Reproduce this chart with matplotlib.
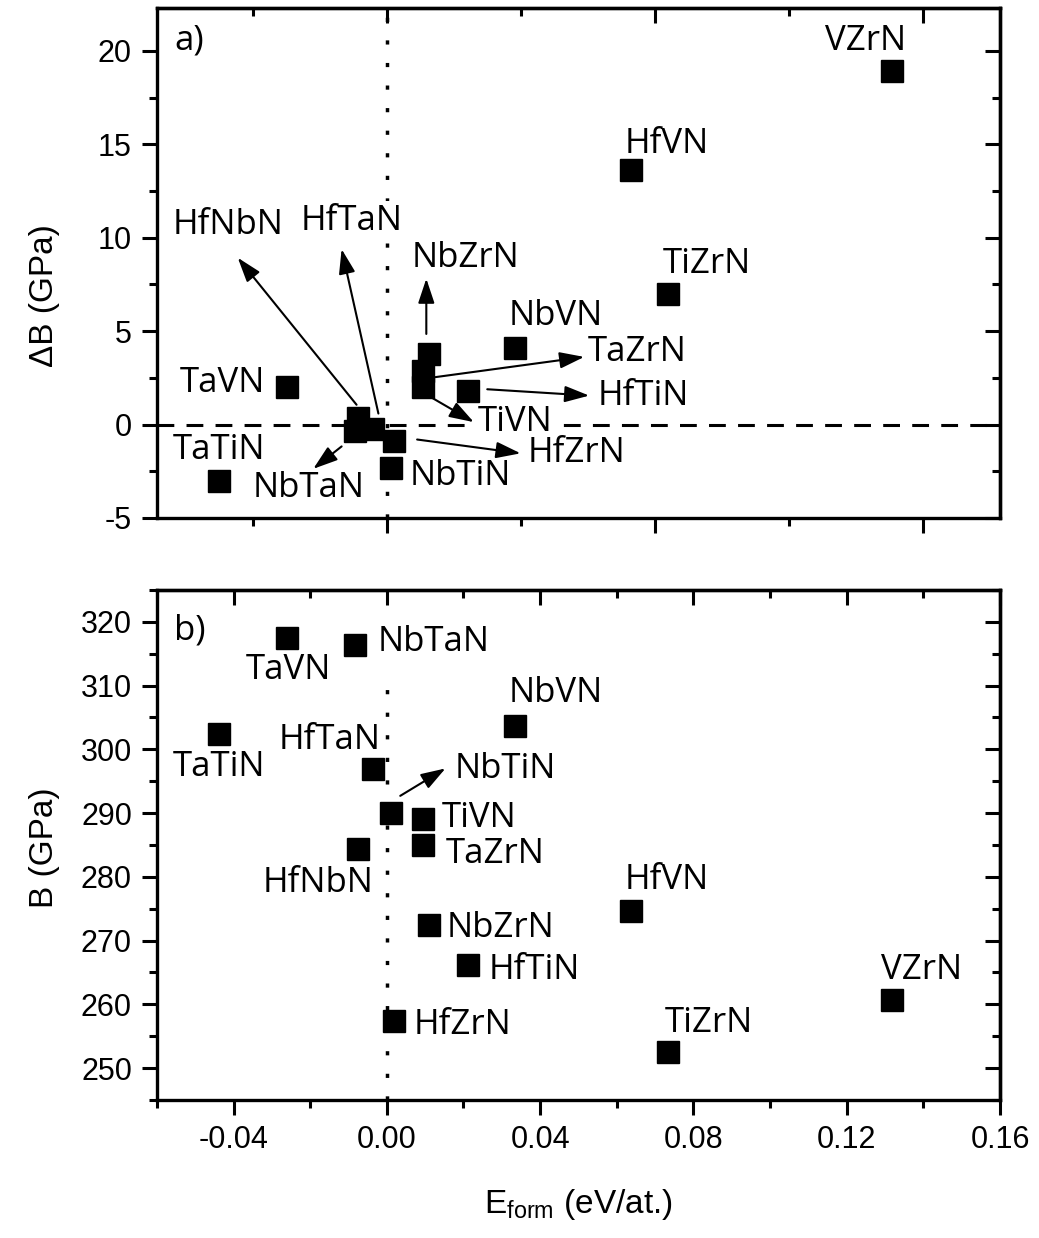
import matplotlib
matplotlib.use("Agg")
import matplotlib.pyplot as plt
from matplotlib.ticker import FixedLocator

plt.rcParams['font.family'] = ['Liberation Sans', 'DejaVu Sans']
plt.rcParams['mathtext.fontset'] = 'custom'
plt.rcParams['mathtext.rm'] = 'Liberation Sans'
plt.rcParams['axes.unicode_minus'] = False

# data
names = ['TaTiN', 'TaVN', 'HfNbN', 'NbTaN', 'HfTaN', 'NbTiN', 'HfZrN', 'TiVN',
         'TaZrN', 'NbZrN', 'HfTiN', 'NbVN', 'HfVN', 'TiZrN', 'VZrN']
e_form = [-0.0439, -0.0261, -0.0075, -0.0083, -0.0036, 0.0011, 0.0018, 0.0094,
          0.0094, 0.0110, 0.0213, 0.0335, 0.0638, 0.0734, 0.1317]
delta_b = [-3.0, 2.0, 0.35, -0.35, -0.25, -2.35, -0.9, 2.0,
           2.85, 3.75, 1.8, 4.1, 13.6, 7.0, 18.9]
bulk = [302.4, 317.5, 284.3, 316.4, 296.9, 290.0, 257.4, 289.0,
        285.0, 272.4, 266.2, 303.6, 274.7, 252.6, 260.7]

x_ticks = [-0.04, 0.00, 0.04, 0.08, 0.12, 0.16]
x_ticklabels = ['-0.04', '0.00', '0.04', '0.08', '0.12', '0.16']
dB_ticks = [-5, 0, 5, 10, 15, 20]
B_ticks = [250, 260, 270, 280, 290, 300, 310, 320]

# label placement (text centre) for each panel
lab_a = {'HfNbN': (-0.0415, 10.7), 'HfTaN': (-0.0092, 10.9), 'NbZrN': (0.0205, 8.9),
         'NbVN': (0.0440, 5.8), 'TaVN': (-0.0428, 2.22), 'TaTiN': (-0.0439, -1.35),
         'NbTaN': (-0.0203, -3.39), 'NbTiN': (0.0192, -2.74), 'TiVN': (0.0336, 0.13),
         'HfZrN': (0.0496, -1.54), 'TaZrN': (0.0652, 3.87), 'HfTiN': (0.0668, 1.52),
         'HfVN': (0.0730, 15.04), 'TiZrN': (0.0834, 8.6), 'VZrN': (0.1249, 20.55)}
# arrows (tail, head) in panel a
arr_a = [((-0.0079, 1.06), (-0.0389, 8.93)),
         ((-0.0022, 0.59), (-0.0118, 9.39)),
         ((0.0103, 4.85), (0.0103, 7.81)),
         ((-0.0118, -1.17), (-0.0192, -2.37)),
         ((0.0079, -0.80), (0.0349, -1.54)),
         ((0.0118, 1.43), (0.0227, 0.13)),
         ((0.0127, 2.54), (0.0515, 3.62)),
         ((0.0262, 1.89), (0.0528, 1.55))]

lab_b = {'NbTaN': (0.0122, 316.9), 'TaVN': (-0.0258, 312.5), 'TaTiN': (-0.0437, 297.3),
         'HfTaN': (-0.0148, 301.5), 'NbTiN': (0.0310, 296.9), 'TiVN': (0.0240, 289.3),
         'TaZrN': (0.0284, 283.5), 'HfNbN': (-0.0179, 279.0), 'NbZrN': (0.0297, 271.9),
         'HfTiN': (0.0384, 265.4), 'HfZrN': (0.0197, 256.8), 'NbVN': (0.0440, 308.8),
         'HfVN': (0.0730, 279.5), 'TiZrN': (0.0839, 257.0), 'VZrN': (0.1396, 265.4)}
arr_b = [((0.0035, 292.7), (0.0153, 297.0))]

LABEL_FONT = ['Open Sans', 'DejaVu Sans']
LABEL_SIZE = 25
TICK_SIZE = 22
AXLAB_SIZE = 24


def style_axes(ax, xmaj, xmin, ymaj, ymin):
    for s in ax.spines.values():
        s.set_linewidth(2.4)
    ax.xaxis.set_major_locator(FixedLocator(xmaj))
    ax.xaxis.set_minor_locator(FixedLocator(xmin))
    ax.yaxis.set_major_locator(FixedLocator(ymaj))
    ax.yaxis.set_minor_locator(FixedLocator(ymin))
    ax.tick_params(which='major', direction='out', length=11, width=2.2,
                   labelsize=TICK_SIZE, pad=7)
    ax.tick_params(which='minor', direction='out', length=6, width=2.2)
    # mirrored ticks on top and right point inwards
    top = ax.secondary_xaxis('top')
    top.xaxis.set_major_locator(FixedLocator(xmaj))
    top.xaxis.set_minor_locator(FixedLocator(xmin))
    top.tick_params(which='major', direction='in', length=11, width=2.2, labeltop=False)
    top.tick_params(which='minor', direction='in', length=6, width=2.2)
    top.spines['top'].set_linewidth(2.4)
    right = ax.secondary_yaxis('right')
    right.yaxis.set_major_locator(FixedLocator(ymaj))
    right.yaxis.set_minor_locator(FixedLocator(ymin))
    right.tick_params(which='major', direction='in', length=11, width=2.2, labelright=False)
    right.tick_params(which='minor', direction='in', length=6, width=2.2)
    right.spines['right'].set_linewidth(2.4)


def put_labels(ax, labels, arrows):
    for name, (lx, ly) in labels.items():
        ax.text(lx, ly, name, ha='center', va='center', fontsize=LABEL_SIZE,
                family=LABEL_FONT, zorder=2,
                bbox=dict(fc='white', ec='none', pad=2))
    for tail, head in arrows:
        ax.annotate('', xy=head, xytext=tail, zorder=4,
                    arrowprops=dict(arrowstyle='-|>,head_length=0.6,head_width=0.2',
                                    color='k', lw=1.5, mutation_scale=25,
                                    shrinkA=0, shrinkB=0))


fig = plt.figure(figsize=(10.39, 12.38), dpi=100)
ax1 = fig.add_axes([0.151, 0.5816, 0.8115, 0.412])
ax2 = fig.add_axes([0.151, 0.1115, 0.8115, 0.412])

# panel a
ax1.axhline(0, color='k', lw=2.2, ls=(0, (5.5, 4)), zorder=1)
ax1.axvline(0, color='k', lw=2.5, ls=(0, (1.2, 5.3)), zorder=1)
ax1.plot(e_form, delta_b, 's', color='k', ms=15.5, zorder=3)
put_labels(ax1, lab_a, arr_a)
ax1.text(-0.0515, 20.55, 'a)', ha='center', va='center', fontsize=LABEL_SIZE, family=LABEL_FONT)
ax1.set_xlim(-0.06, 0.16)
ax1.set_ylim(-5, 22.3)
style_axes(ax1, [0.0, 0.07, 0.14], [-0.035, 0.035, 0.105],
           dB_ticks, [-2.5, 2.5, 7.5, 12.5, 17.5])
ax1.tick_params(labelbottom=False)
ax1.set_yticklabels([str(t) for t in dB_ticks])
ax1.set_ylabel('ΔB (GPa)', fontsize=AXLAB_SIZE)
ax1.yaxis.set_label_coords(-0.115, 0.437)

# panel b
ax2.axvline(0, ymax=0.84, color='k', lw=2.5, ls=(0, (1.2, 5.3)), zorder=1)
ax2.plot(e_form, bulk, 's', color='k', ms=15.5, zorder=3)
put_labels(ax2, lab_b, arr_b)
ax2.text(-0.0515, 318.6, 'b)', ha='center', va='center', fontsize=LABEL_SIZE, family=LABEL_FONT)
ax2.set_xlim(-0.06, 0.16)
ax2.set_ylim(245, 325)
style_axes(ax2, x_ticks, [-0.06, -0.02, 0.02, 0.06, 0.10, 0.14],
           B_ticks, [245, 255, 265, 275, 285, 295, 305, 315, 325])
ax2.set_xticklabels(x_ticklabels)
ax2.set_yticklabels([str(t) for t in B_ticks])
ax2.set_ylabel('B (GPa)', fontsize=AXLAB_SIZE)
ax2.yaxis.set_label_coords(-0.115, 0.494)
ax2.set_xlabel(r'E$_{\mathrm{form}}$ (eV/at.)', fontsize=AXLAB_SIZE)
ax2.xaxis.set_label_coords(0.50, -0.17)

fig.savefig('out.png', dpi=100)
